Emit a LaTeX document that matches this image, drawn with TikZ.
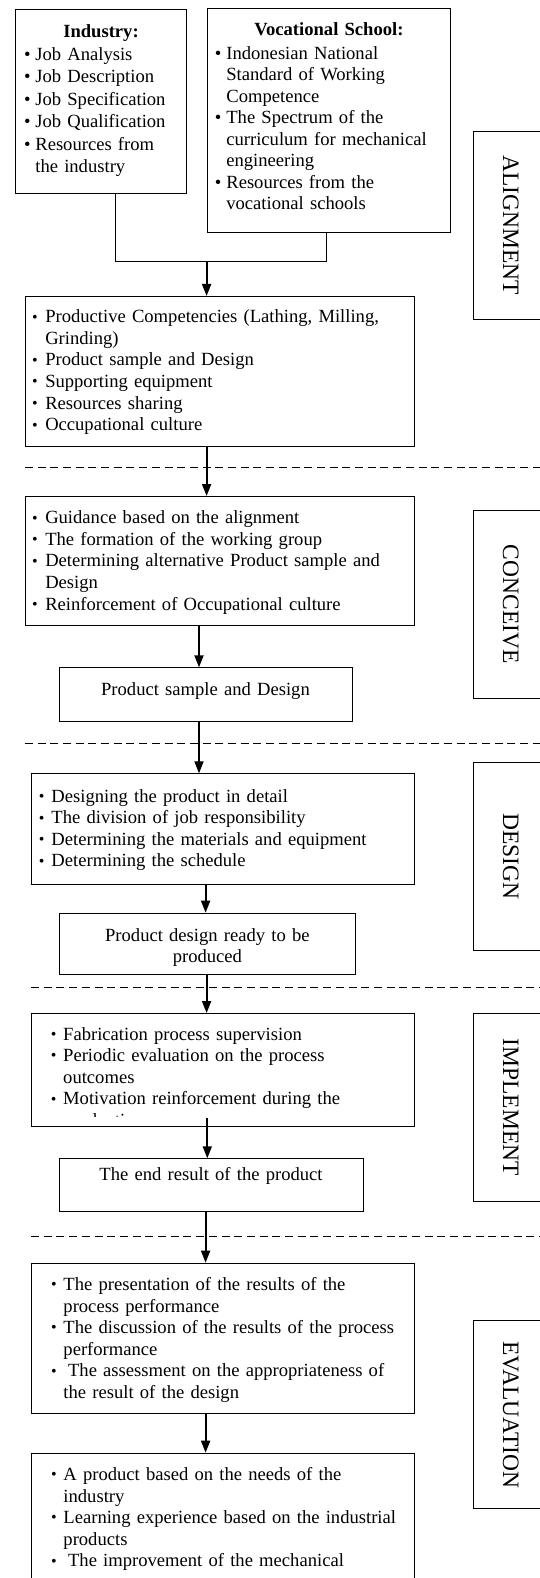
\documentclass[tikz,border=0pt]{standalone}
\usepackage{fontspec}
\setmainfont{Liberation Serif}
\usepackage{graphicx}
\usetikzlibrary{arrows.meta}
\newcommand{\BigB}{\textbullet}
\newcommand{\SmB}{\raisebox{0.04em}{\scalebox{0.86}{\textbullet}}}
\newcommand{\itm}[3]{\hspace*{#1}\makebox[0pt]{#3}\hspace*{#2}}
\begin{document}
\begin{tikzpicture}[x=1pt,y=-1pt,
  box/.style={draw, line width=0.9pt, inner sep=0pt, anchor=north west, align=left,
    font=\fontsize{18.6}{21.6}\selectfont, text height=13pt},
  cbox/.style={box, align=center},
  lab/.style={draw, line width=0.9pt, inner sep=0pt, rotate=-90, minimum width=188pt,
    minimum height=75pt, font=\fontsize{23.5}{26}\selectfont, text height=15.6pt, text depth=0pt},
  arr/.style={line width=1.8pt, -{Triangle[width=9pt,length=12pt]}},
  sep/.style={line width=1.1pt, dash pattern=on 8pt off 4.7pt},
  link/.style={line width=0.9pt}]
\useasboundingbox (0,0) rectangle (540,1578);

% top boxes
\node[box, text width=171.5pt, minimum height=184pt, text depth=142.2pt,
  font=\fontsize{18.6}{22.5}\selectfont] (industry) at (14.8,9.3)
 {\makebox[\linewidth]{\textbf{Industry:}}\\[0.8pt]
  \itm{12.1pt}{8pt}{\BigB}Job Analysis\\
  \itm{12.1pt}{8pt}{\BigB}Job Description\\
  \itm{12.1pt}{8pt}{\BigB}Job Specification\\
  \itm{12.1pt}{8pt}{\BigB}Job Qualification\\
  \itm{12.1pt}{8pt}{\BigB}Resources from\\
  \hspace*{20.1pt}the industry};

\node[box, text width=243.8pt, minimum height=224pt, text depth=183.6pt,
  font=\fontsize{18.6}{21.5}\selectfont] (vocational) at (206.6,8.3)
 {\makebox[\linewidth]{\textbf{Vocational School:}}\\[2.5pt]
  \itm{11pt}{8.3pt}{\BigB}Indonesian National\\
  \hspace*{19.3pt}Standard of Working\\
  \hspace*{19.3pt}Competence\\
  \itm{11pt}{8.3pt}{\BigB}The Spectrum of the\\
  \hspace*{19.3pt}curriculum for mechanical\\
  \hspace*{19.3pt}engineering\\
  \itm{11pt}{8.3pt}{\BigB}Resources from the\\
  \hspace*{19.3pt}vocational schools};

% alignment stage
\node[box, text width=388.8pt, minimum height=150pt, text depth=110.4pt] (productive) at (24.8,296)
 {\itm{9.6pt}{10.4pt}{\SmB}Productive Competencies (Lathing, Milling,\\
  \hspace*{20pt}Grinding)\\
  \itm{9.6pt}{10.4pt}{\SmB}Product sample and Design\\
  \itm{9.6pt}{10.4pt}{\SmB}Supporting equipment\\
  \itm{9.6pt}{10.4pt}{\SmB}Resources sharing\\
  \itm{9.6pt}{10.4pt}{\SmB}Occupational culture};

% conceive stage
\node[box, text width=388.8pt, minimum height=128.7pt, text depth=87.1pt] (guidance) at (24.8,496)
 {\itm{9.6pt}{10.4pt}{\SmB}Guidance based on the alignment\\
  \itm{9.6pt}{10.4pt}{\SmB}The formation of the working group\\
  \itm{9.6pt}{10.4pt}{\SmB}Determining alternative Product sample and\\
  \hspace*{20pt}Design\\
  \itm{9.6pt}{10.4pt}{\SmB}Reinforcement of Occupational culture};

\node[cbox, text width=293.1pt, minimum height=53.7pt, text depth=11.3pt] (sample) at (58.5,667.3)
 {Product sample and Design};

% design stage
\node[box, text width=382.6pt, minimum height=110.7pt, text depth=66.9pt] (design) at (31,773.3)
 {\itm{10.3pt}{9.7pt}{\SmB}Designing the product in detail\\
  \itm{10.3pt}{9.7pt}{\SmB}The division of job responsibility\\
  \itm{10.3pt}{9.7pt}{\SmB}Determining the materials and equipment\\
  \itm{10.3pt}{9.7pt}{\SmB}Determining the schedule};

\node[cbox, text width=296.9pt, minimum height=61.3pt, text depth=18.3pt] (ready) at (58.5,912.7)
 {Product design ready to be\\produced};

% implement stage
\node[box, minimum width=382.6pt, minimum height=113pt, text height=0pt, text depth=0pt] (implement) at (31,1013) {};
\begin{scope}
\clip (31,1013) rectangle (413.6,1116.8);
\node[anchor=base west, inner sep=0pt, text width=382.6pt, align=left,
  font=\fontsize{18.6}{21.6}\selectfont] (implementtext) at (31,1040)
 {\itm{22.4pt}{9.6pt}{\SmB}Fabrication process supervision\\
  \itm{22.4pt}{9.6pt}{\SmB}Periodic evaluation on the process\\
  \hspace*{32pt}outcomes\\
  \itm{22.4pt}{9.6pt}{\SmB}Motivation reinforcement during the\\
  \hspace*{32pt}production};
\end{scope}

\node[cbox, text width=304.1pt, minimum height=53pt, text depth=22.6pt] (endres) at (58.5,1158.3)
 {The end result of the product};

% evaluation stage
\node[box, text width=382.6pt, minimum height=150.6pt, text depth=109pt] (evaluation) at (31,1262.7)
 {\itm{22.4pt}{9.6pt}{\SmB}The presentation of the results of the\\
  \hspace*{32pt}process performance\\
  \itm{22.4pt}{9.6pt}{\SmB}The discussion of the results of the process\\
  \hspace*{32pt}performance\\
  \itm{22.4pt}{9.6pt}{\SmB}\hspace*{4.65pt}The assessment on the appropriateness of\\
  \hspace*{32pt}the result of the design};

\node[box, text width=382.6pt, minimum height=150pt, text depth=108.4pt] (final) at (31,1452.7)
 {\itm{22.4pt}{9.6pt}{\SmB}A product based on the needs of the\\
  \hspace*{32pt}industry\\
  \itm{22.4pt}{9.6pt}{\SmB}Learning experience based on the industrial\\
  \hspace*{32pt}products\\
  \itm{22.4pt}{9.6pt}{\SmB}\hspace*{4.65pt}The improvement of the mechanical};

% stage labels
\node[lab] (lalign) at (511,225.5) {ALIGNMENT};
\node[lab] (lconceive) at (511,604.3) {CONCEIVE};
\node[lab] (ldesign) at (511,856.5) {DESIGN};
\node[lab] (limplement) at (511,1107.2) {IMPLEMENT};
\node[lab] (levaluation) at (511,1414.7) {EVALUATION};

% separators
\draw[sep] (24.8,467.3) -- (540,467.3);
\draw[sep] (24.8,743.3) -- (540,743.3);
\draw[sep] (31,987.3) -- (540,987.3);
\draw[sep] (31,1236.3) -- (540,1236.3);

% connectors
\coordinate (j) at (206.6,261.7);
\draw[link] ([xshift=14.15pt]industry.south) |- (j) -| ([xshift=-2.1pt]vocational.south);
\draw[arr] (j) -- (j |- productive.north);
\draw[arr] (productive.south -| 206.6,0) -- (guidance.north -| 206.6,0);
\draw[arr] (guidance.south -| 199,0) -- (sample.north -| 199,0);
\draw[arr] (sample.south -| 199,0) -- (design.north -| 199,0);
\draw[arr] (design.south -| 205.6,0) -- (ready.north -| 205.6,0);
\draw[arr] (ready.south -| 206.6,0) -- (implement.north -| 206.6,0);
\draw[arr] ([yshift=9.3pt]implement.south -| 207.3,0) -- (endres.north -| 207.3,0);
\draw[arr] (endres.south -| 205.6,0) -- (evaluation.north -| 205.6,0);
\draw[arr] (evaluation.south -| 205.6,0) -- (final.north -| 205.6,0);
\end{tikzpicture}
\end{document}
